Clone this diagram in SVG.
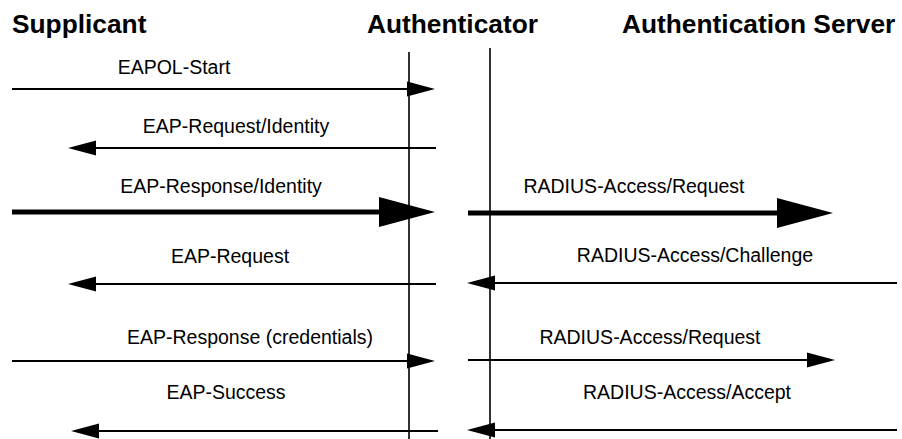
<svg xmlns="http://www.w3.org/2000/svg" width="902" height="439" viewBox="0 0 902 439">
<defs>
<style>
.hd{font-family:"Liberation Sans",Arial,sans-serif;font-weight:bold;font-size:26.3px;fill:#000}
.lb{font-family:"Liberation Sans",Arial,sans-serif;font-size:19.5px;fill:#000;text-anchor:middle}
.life{stroke:#000;stroke-width:1.6;fill:none}
.thin{stroke:#000;stroke-width:2;fill:none;marker-end:url(#ah)}
.thick{stroke:#000;stroke-width:5;fill:none;marker-end:url(#ahb)}
</style>
<marker id="ah" markerUnits="userSpaceOnUse" markerWidth="30" markerHeight="16" viewBox="0 -8 30 16" refX="0" refY="0" orient="auto">
<path d="M0,-7.5 L28,0 L0,7.5 z" fill="#000"/>
</marker>
<marker id="ahb" markerUnits="userSpaceOnUse" markerWidth="58" markerHeight="32" viewBox="0 -16 58 32" refX="0" refY="0" orient="auto">
<path d="M0,-15 L56,0 L0,15 z" fill="#000"/>
</marker>
</defs>
<g id="supplicant"><text class="hd" x="12" y="33">Supplicant</text></g>
<g id="authenticator"><text class="hd" x="367" y="33">Authenticator</text>
<line class="life" x1="409" y1="52" x2="409" y2="439"/></g>
<g id="auth-server"><text class="hd" x="622" y="33">Authentication Server</text>
<line class="life" x1="490" y1="48" x2="490" y2="439"/></g>
<g id="connectors">
<line class="thin" x1="12" y1="89" x2="407" y2="89"/>
<text class="lb" x="174" y="74">EAPOL-Start</text>
<line class="thin" x1="436" y1="148" x2="96" y2="148"/>
<text class="lb" x="236" y="133">EAP-Request/Identity</text>
<line class="thick" x1="12" y1="212" x2="379" y2="212"/>
<text class="lb" x="221" y="193">EAP-Response/Identity</text>
<line class="thick" x1="468" y1="213" x2="777" y2="213"/>
<text class="lb" x="634" y="193">RADIUS-Access/Request</text>
<line class="thin" x1="436" y1="284" x2="96" y2="284"/>
<text class="lb" x="230" y="263">EAP-Request</text>
<line class="thin" x1="897" y1="283" x2="495" y2="283"/>
<text class="lb" x="695" y="262">RADIUS-Access/Challenge</text>
<line class="thin" x1="12" y1="361" x2="407" y2="361"/>
<text class="lb" x="250" y="344">EAP-Response (credentials)</text>
<line class="thin" x1="468" y1="360" x2="807" y2="360"/>
<text class="lb" x="650" y="344">RADIUS-Access/Request</text>
<line class="thin" x1="438" y1="431" x2="99" y2="431"/>
<text class="lb" x="226" y="399">EAP-Success</text>
<line class="thin" x1="897" y1="430" x2="495" y2="430"/>
<text class="lb" x="687" y="399">RADIUS-Access/Accept</text>
</g>
</svg>
